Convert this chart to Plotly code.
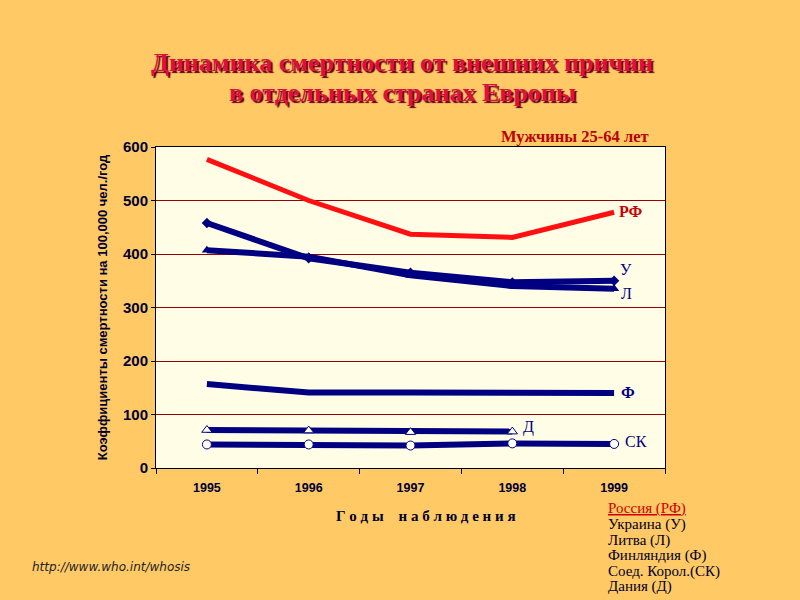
import plotly.graph_objects as go

years = ["1995", "1996", "1997", "1998", "1999"]
russia = [577, 500, 437, 431, 478]
ukraine = [458, 392, 365, 347, 350]
lithuania = [407, 395, 360, 340, 335]
finland = [157, 141, 141, 140, 140]
uk = [44, 44, 42, 46, 45]
denmark_years = ["1995", "1996", "1997", "1998"]
denmark = [71, 70, 67, 68]

navy = "#000080"
fig = go.Figure()
fig.add_trace(go.Scatter(x=years, y=russia, mode="lines", line=dict(color="#FF1010", width=5)))
fig.add_trace(go.Scatter(x=years, y=lithuania, mode="lines+markers", line=dict(color=navy, width=6),
                         marker=dict(symbol="triangle-up", size=9, color=navy)))
fig.add_trace(go.Scatter(x=years, y=ukraine, mode="lines+markers", line=dict(color=navy, width=6),
                         marker=dict(symbol="diamond", size=8, color=navy)))
fig.add_trace(go.Scatter(x=years, y=finland, mode="lines", line=dict(color=navy, width=6)))
fig.add_trace(go.Scatter(x=denmark_years, y=denmark, mode="lines+markers", line=dict(color=navy, width=6),
                         marker=dict(symbol="triangle-up", size=9, color="white", line=dict(color=navy, width=1))))
fig.add_trace(go.Scatter(x=years, y=uk, mode="lines+markers", line=dict(color=navy, width=6),
                         marker=dict(symbol="circle", size=9, color="white", line=dict(color=navy, width=1))))

fig.update_layout(
    width=800, height=600,
    paper_bgcolor="#FFC966", plot_bgcolor="#FFFDE6",
    showlegend=False,
    margin=dict(l=156, r=135, t=147, b=132),
    xaxis=dict(type="category", tickson="boundaries", ticks="outside", ticklen=5, tickcolor="black",
               showgrid=False, showline=True, linecolor="black", mirror=True, linewidth=1,
               ticklabelstandoff=8,
               tickfont=dict(family="Liberation Sans, Arial", size=12.5, color="#000033", weight="bold"),
               range=[-0.5, 4.5]),
    yaxis=dict(range=[0, 600], dtick=100, ticks="outside", ticklen=4, tickcolor="black",
               showgrid=True, gridcolor="#990000", gridwidth=1, zeroline=False,
               showline=True, linecolor="black", mirror=True, linewidth=1,
               tickfont=dict(family="Liberation Sans, Arial", size=15, color="#000033", weight="bold"),
               title=dict(text="Коэффициенты смертности на 100,000 чел./год", standoff=12,
                          font=dict(family="Liberation Sans, Arial", size=13, color="#000033", weight="bold"))),
)

serif = "Liberation Serif, Times New Roman"
anns = []
title_lines = [("Динамика смертности от внешних причин", 63), ("в отдельных странах Европы", 92)]
for txt, y in title_lines:
    anns.append(dict(text="<b>" + txt + "</b>", x=402, y=600 - y, xref="paper", yref="paper",
                     font=dict(family=serif, size=26, color="#E0103E", shadow="2px 2px 1px #5A0018"),
                     borderpad=0))
anns.append(dict(text="<b>Мужчины 25-64 лет</b>", x=651, y=600 - 136, xanchor="right",
                 font=dict(family=serif, size=16.5, color="#B80000")))
labels = [("РФ", 617, 211, "#CC0000"), ("У", 618, 269, navy), ("Л", 619, 293, navy),
          ("Ф", 619, 392, navy), ("Д", 521, 427, navy), ("СК", 623, 441, navy)]
for t, x, y, c in labels:
    anns.append(dict(text=("<b>" + t + "</b>") if t in ("РФ", "Ф") else t, x=x, y=600 - y, xanchor="left",
                     font=dict(family=serif, size=16, color=c)))
anns.append(dict(text="<b>Г о д ы    н а б л ю д е н и я</b>", x=426, y=600 - 516,
                 font=dict(family=serif, size=15, color="#000022")))
legend_items = ["Украина (У)", "Литва (Л)", "Финляндия (Ф)", "Соед. Корол.(СК)", "Дания (Д)"]
anns.append(dict(text="<u>Россия (РФ)</u>", x=606, y=600 - 509, xanchor="left",
                 font=dict(family=serif, size=15, color="#CC0000")))
for i, t in enumerate(legend_items):
    anns.append(dict(text=t, x=606, y=600 - (524.5 + 15.5 * i), xanchor="left",
                     font=dict(family=serif, size=15, color="#000022")))
anns.append(dict(text="<i>http://www.who.int/whosis</i>", x=30, y=600 - 567, xanchor="left",
                 font=dict(family="DejaVu Sans", size=12, color="#222222")))

pw, ph = 800 - 156 - 135, 600 - 147 - 132
for a in anns:
    a["x"] = (a["x"] - 156) / pw
    a["y"] = (a["y"] - 132) / ph
    a["xref"] = "paper"
    a["yref"] = "paper"
    a["showarrow"] = False
    a.setdefault("xanchor", "center")
    a["yanchor"] = "middle"
fig.update_layout(annotations=anns)
fig.write_html("out.html", config={"displayModeBar": False},
               post_script="document.body.style.margin='0';document.body.style.padding='0';")
